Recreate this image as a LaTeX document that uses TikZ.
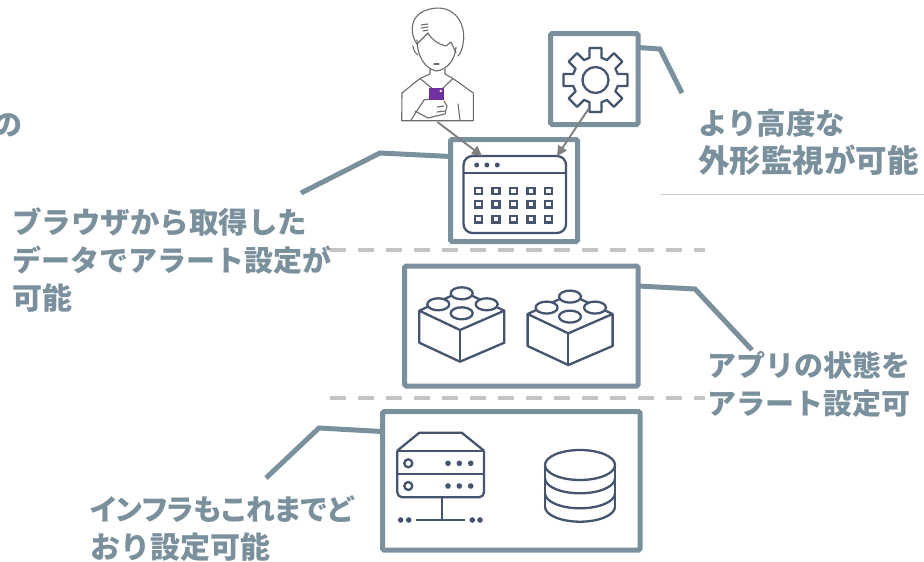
\documentclass[tikz,border=0pt]{standalone}
\usepackage{fontspec}
\setmainfont{Noto Sans CJK JP}
\usepackage{xcolor}
\usetikzlibrary{positioning,calc,arrows.meta}

\definecolor{panelgray}{HTML}{7A909C}
\definecolor{iconblue}{HTML}{455570}
\definecolor{dashgray}{HTML}{C4C4C4}
\definecolor{phonepurple}{HTML}{7030A0}

\newcommand{\linesize}[2]{{\fontsize{#1}{38}\selectfont #2}}

\tikzset{
	panel/.style={draw=panelgray, fill=white, line width=5pt, rounded corners=1.5pt, inner sep=0pt, outer sep=0pt},
	leader/.style={draw=panelgray, line width=5pt, line join=miter},
	lbl/.style={text=panelgray, font=\fontsize{29}{38}\selectfont\bfseries, align=left, anchor=north west, inner sep=0pt},
	sep/.style={draw=dashgray, line width=3.6pt, dash pattern=on 16pt off 12pt},
	icon/.style={draw=iconblue, line width=2.3pt, line join=round},
	dotfill/.style={fill=iconblue},
	person/.style={draw=black!58, line width=1.1pt, line join=round, line cap=round},
	flow/.style={draw=black!50, line width=1.9pt, -{Triangle[length=10pt,width=10pt]}},
	hole/.style={inner sep=0pt, outer sep=0pt}
}

\begin{document}
\begin{tikzpicture}[x=1pt,y=-1pt, line cap=butt]
	\useasboundingbox (0,0) rectangle (924,562);

	% ===== separators =====
	\coordinate (sepa1) at (330,250); \coordinate (sepa2) at (705,250);
	\coordinate (sepb1) at (330,398); \coordinate (sepb2) at (705,398);
	\draw[sep] (sepa1) -- (sepa2);
	\draw[sep] (sepb1) -- (sepb2);
	\coordinate (rule1) at (660,194); \coordinate (rule2) at (924,194);
	\draw[black!18, line width=0.8pt] (rule1) -- (rule2);

	% ===== boxes =====
	\node[panel, minimum width=87.5pt, minimum height=91pt] (boxgear) at (594.3,79) {};
	\node[panel, minimum width=127pt, minimum height=102pt] (boxweb) at (514,190.5) {};
	\node[panel, minimum width=233.5pt, minimum height=120pt] (boxapp) at (521.3,326) {};
	\node[panel, minimum width=257.5pt, minimum height=138.5pt] (boxinfra) at (511.3,480.8) {};

	% ===== anchors for the icons =====
	\node[hole, minimum width=72pt, minimum height=114pt] (user) at (437.5,65) {};
	\node[hole, minimum width=102.5pt, minimum height=77pt] (window) at (514.8,194.5) {};
	\node[hole, circle, minimum size=58pt] (gear) at (595.5,80) {};

	% ===== person =====
	\draw[person] (417,44) .. controls (411,36) and (410,22) .. (418,15)
		.. controls (424,9) and (440,5) .. (450,11)
		.. controls (460,16) and (466,30) .. (463,44)
		.. controls (462,50) and (460,54) .. (458,56);
	\draw[person] (417,44) -- (428,33) .. controls (432,40) and (438,44) .. (446,46)
		-- (451,42) -- (456,53);
	\draw[person] (417,40) .. controls (417,55) and (424,68) .. (436,71)
		.. controls (447,70) and (455,60) .. (456,47);
	\draw[person] (413,46) .. controls (413,50) and (416,54) .. (418,55);
	\draw[person] (434,64) -- (439,64);
	\draw[person] (421,25) -- (428,24) (421,28) -- (428,27) (423,31) -- (428,30);
	\draw[person] (430,69) -- (430,74) -- (420,78.5) -- (402,93) -- (401.7,120.7)
		-- (473.3,120.7) -- (473.3,93) -- (453,78.5) -- (445,74) -- (445,69);
	\draw[person] (420,78.5) -- (434,90) (453,78.5) -- (443,88);
	\draw[person] (411,120) -- (424,100) -- (429,99);
	\draw[person] (444,101) -- (447,106) -- (445,114) -- (428,118) -- (415,111);
	\draw[person] (444,106) -- (437,107) (445,111) -- (437,112);
	\draw[person] (460,120) -- (458,104);
	\fill[phonepurple] (429,87.5) rectangle (444.3,99.5);
	\fill[white] (440.7,91) circle (1.3pt);

	% ===== gear =====
	\begin{scope}[shift={(gear.center)}]
		\draw[icon] (-15:23) \foreach \a in {0,45,...,315}{
			-- (\a-15:23) -- (\a-10.5:32.5) -- (\a+10.5:32.5) -- (\a+15:23)
		} -- cycle;
		\draw[icon] (0,0) circle (13pt);
	\end{scope}

	% ===== browser window =====
	\draw[icon, rounded corners=9pt] (window.south west) rectangle (window.north east);
	\draw[icon] (463.5,173) -- (566,173);
	\foreach \x in {476.7,486.9,497.3}{
		\fill[dotfill] (\x,165) circle (2.5pt);
	}
	\foreach \x in {478.3,496,513.3,531,548.7}{
		\foreach \y in {191,204.3,219.3}{
			\draw[icon, line join=miter] (\x-3.5,\y-3.2) rectangle (\x+3.5,\y+3.2);
		}
	}

	% ===== blocks =====
	\foreach \bx/\by in {0/0,108.3/3.3}{
		\begin{scope}[shift={(\bx,\by)}]
			\draw[icon] (419.3,310.7) -- (461.7,291) -- (504.3,310.7) -- (460,330) -- cycle;
			\draw[icon] (419.3,310.7) -- (419.3,342.7) -- (460,361.7) -- (504.3,342.7) -- (504.3,310.7);
			\draw[icon] (460,330) -- (460,361.7);
			\foreach \sx/\sy in {461.7/293.3,438.3/304.3,486.7/304.3,461.7/313.3}{
				\draw[icon, fill=white] (\sx,\sy) ellipse (11pt and 6pt);
			}
		\end{scope}
	}

	% ===== server =====
	\draw[icon] (397.3,450.7) -- (419.3,432.7) -- (461.7,432.7) -- (484,450.7);
	\draw[icon, rounded corners=5pt] (397.3,450.7) -- (397.3,497.3) -- (484,497.3) -- (484,450.7);
	\draw[icon] (397.3,450.7) -- (484,450.7);
	\draw[icon] (397.3,474.3) -- (484,474.3);
	\foreach \y in {463.3,486}{
		\draw[icon] (408.3,\y) circle (4pt);
		\foreach \x in {448,459.3,470.7}{
			\fill[dotfill] (\x,\y) circle (2.8pt);
		}
	}
	\draw[icon] (442,497.3) -- (442,520);
	\draw[icon] (416,520) -- (465,520);
	\foreach \x in {400.7,408.7,472.3,480}{
		\fill[dotfill] (\x,520) circle (2.8pt);
	}

	% ===== database =====
	\draw[icon] (580,465) ellipse (35pt and 15pt);
	\draw[icon] (545,465) -- (545,506.7);
	\draw[icon] (615,465) -- (615,506.7);
	\foreach \y in {478.3,493.3,506.7}{
		\draw[icon] (545,\y) arc (180:0:35 and 15);
	}

	% ===== arrows =====
	\coordinate (winleft) at (482,156);
	\coordinate (winright) at (557,156);
	\draw[flow] (user.south) -- (winleft);
	\draw[flow] (gear.-103) -- (winright);

	% ===== leaders =====
	\coordinate (bendgear) at (660,49);  \coordinate (endgear) at (682,93);
	\coordinate (bendweb) at (380,153);  \coordinate (endweb) at (301,193);
	\coordinate (bendapp) at (695,289);  \coordinate (endapp) at (752,350);
	\coordinate (bendinfra) at (319,428); \coordinate (endinfra) at (266,478);
	\draw[leader] ($(boxgear.north east)+(0,14)$) -- (bendgear) -- (endgear);
	\draw[leader] ($(boxweb.north west)+(0,17)$) -- (bendweb) -- (endweb);
	\draw[leader] ($(boxapp.north east)+(0,20)$) -- (bendapp) -- (endapp);
	\draw[leader] ($(boxinfra.north west)+(0,20)$) -- (bendinfra) -- (endinfra);

	% ===== labels =====
	\node[lbl] (lblcut) at (-7,113) {の};
	\node[lbl] (lblweb) at (12,207) {\linesize{29.5}{ブラウザから取得した}\\データでアラート設定が\\\linesize{30}{可能}};
	\node[lbl] (lblgear) at (698,109) {\linesize{29.5}{より高度な}\\\linesize{31.5}{外形監視が可能}};
	\node[lbl] (lblapp) at (707,351) {アプリの状態を\\アラート設定可};
	\node[lbl] (lblinfra) at (90,495) {\addfontfeature{RawFeature=+palt}インフラもこれまでど\\\linesize{30}{おり設定可能}};
\end{tikzpicture}
\end{document}
